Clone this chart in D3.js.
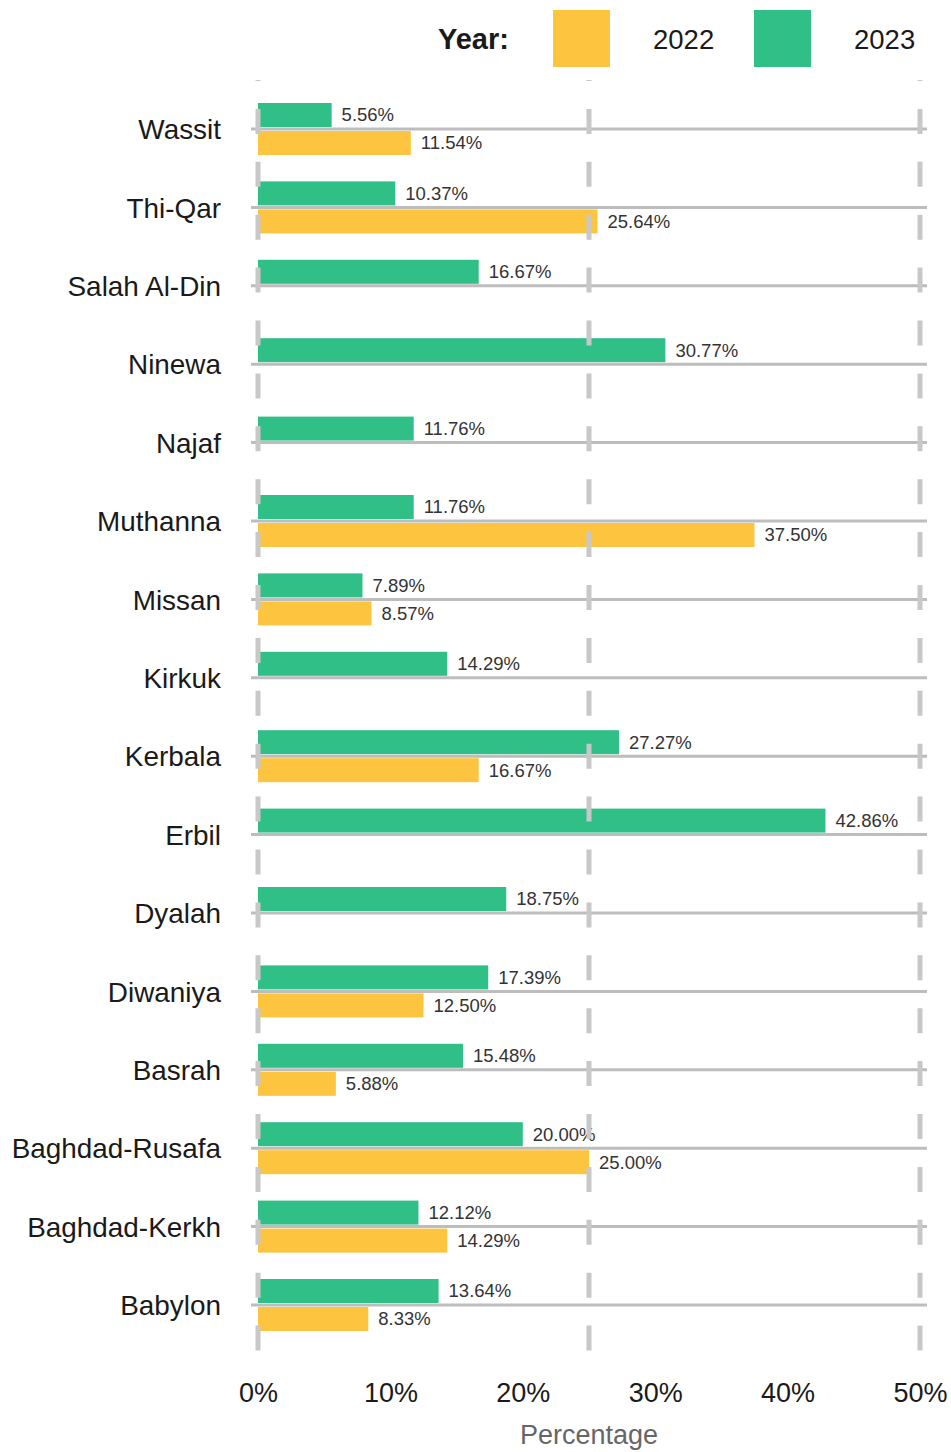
<!DOCTYPE html>
<html><head><meta charset="utf-8">
<script src="https://cdn.jsdelivr.net/npm/d3@7/dist/d3.min.js"></script>
<style>body{margin:0;background:#fff}svg{display:block}</style>
</head><body>
<script>
const categories = ["Wassit","Thi-Qar","Salah Al-Din","Ninewa","Najaf","Muthanna","Missan","Kirkuk","Kerbala","Erbil","Dyalah","Diwaniya","Basrah","Baghdad-Rusafa","Baghdad-Kerkh","Babylon"];
const values2023 = [5.56,10.37,16.67,30.77,11.76,11.76,7.89,14.29,27.27,42.86,18.75,17.39,15.48,20.00,12.12,13.64];
const values2022 = [11.54,25.64,null,null,null,37.50,8.57,null,16.67,null,null,12.50,5.88,25.00,14.29,8.33];
const years = ["2022","2023"];
const xTicks = [0,10,20,30,40,50];
const gridTicks = [0,25,50];

const W = 951, H = 1452;
const font = "'Liberation Sans', Arial, sans-serif";
const colors = {"2022":"#fdc440","2023":"#31bf88"};

const svg = d3.select("body").append("svg").attr("width",W).attr("height",H)
  .style("font-family",font);

const x = d3.scaleLinear().domain([0,50]).range([258,920]);
const y = d3.scalePoint().domain(categories).range([129,1305]);
const plotTop = 80, plotBottom = 1353;
const barH = 24, gapH = 2;

const rows = categories.map((c,i)=>({c, v23: values2023[i], v22: values2022[i]}));

// bars
const g = svg.append("g");
rows.forEach(r=>{
  if (r.v23!=null){
    g.append("rect").attr("x",x(0)).attr("y",y(r.c)-gapH-barH)
      .attr("width",x(r.v23)-x(0)).attr("height",barH).attr("fill",colors["2023"]);
    g.append("text").attr("x",x(r.v23)+10).attr("y",y(r.c)-gapH-barH/2)
      .attr("dy","0.35em").attr("font-size",18.5).attr("fill","#333")
      .text(r.v23.toFixed(2)+"%");
  }
  if (r.v22!=null){
    g.append("rect").attr("x",x(0)).attr("y",y(r.c)+gapH)
      .attr("width",x(r.v22)-x(0)).attr("height",barH).attr("fill",colors["2022"]);
    g.append("text").attr("x",x(r.v22)+10).attr("y",y(r.c)+gapH+barH/2)
      .attr("dy","0.35em").attr("font-size",18.5).attr("fill","#333")
      .text(r.v22.toFixed(2)+"%");
  }
});

// horizontal lines
svg.append("g").selectAll("line").data(categories).join("line")
  .attr("x1",251).attr("x2",927).attr("y1",d=>y(d)).attr("y2",d=>y(d))
  .attr("stroke","#bdbdbd").attr("stroke-width",3);

// vertical dashed grid
svg.append("g").selectAll("line").data(gridTicks).join("line")
  .attr("x1",d=>x(d)).attr("x2",d=>x(d)).attr("y1",plotTop).attr("y2",plotBottom)
  .attr("stroke","#c8c8c8").attr("stroke-width",5)
  .attr("stroke-dasharray","25 27.9").attr("stroke-dashoffset",24);

// y axis labels
const yAxis = d3.axisLeft(y).tickSize(0).tickPadding(0);
const ya = svg.append("g").attr("transform","translate(221,0)").call(yAxis);
ya.select(".domain").remove();
ya.selectAll("text").attr("font-size",27.9).attr("fill","#1a1a1a").attr("font-family",font).attr("dy","0.35em");

// x axis
const xAxis = d3.axisBottom(x).tickValues(xTicks).tickFormat(d=>d+"%").tickSize(0).tickPadding(0);
const xa = svg.append("g").attr("transform","translate(0,1393)").call(xAxis);
xa.select(".domain").remove();
xa.selectAll("text").attr("font-size",27).attr("fill","#1a1a1a").attr("font-family",font).attr("dy","0.35em");

svg.append("text").attr("x",(x(0)+x(50))/2).attr("y",1435).attr("dy","0.35em")
  .attr("text-anchor","middle").attr("font-size",27).attr("fill","#666").text("Percentage");

// legend
svg.append("text").attr("x",438).attr("y",39).attr("dy","0.35em")
  .attr("font-size",29).attr("font-weight","bold").attr("fill","#1a1a1a").text("Year:");
const legX = {"2022":553,"2023":754};
years.forEach(yr=>{
  svg.append("rect").attr("x",legX[yr]).attr("y",10).attr("width",57).attr("height",57).attr("fill",colors[yr]);
  svg.append("text").attr("x",legX[yr]+100).attr("y",39).attr("dy","0.35em")
    .attr("font-size",27.5).attr("fill","#1a1a1a").text(yr);
});
</script>
</body></html>
